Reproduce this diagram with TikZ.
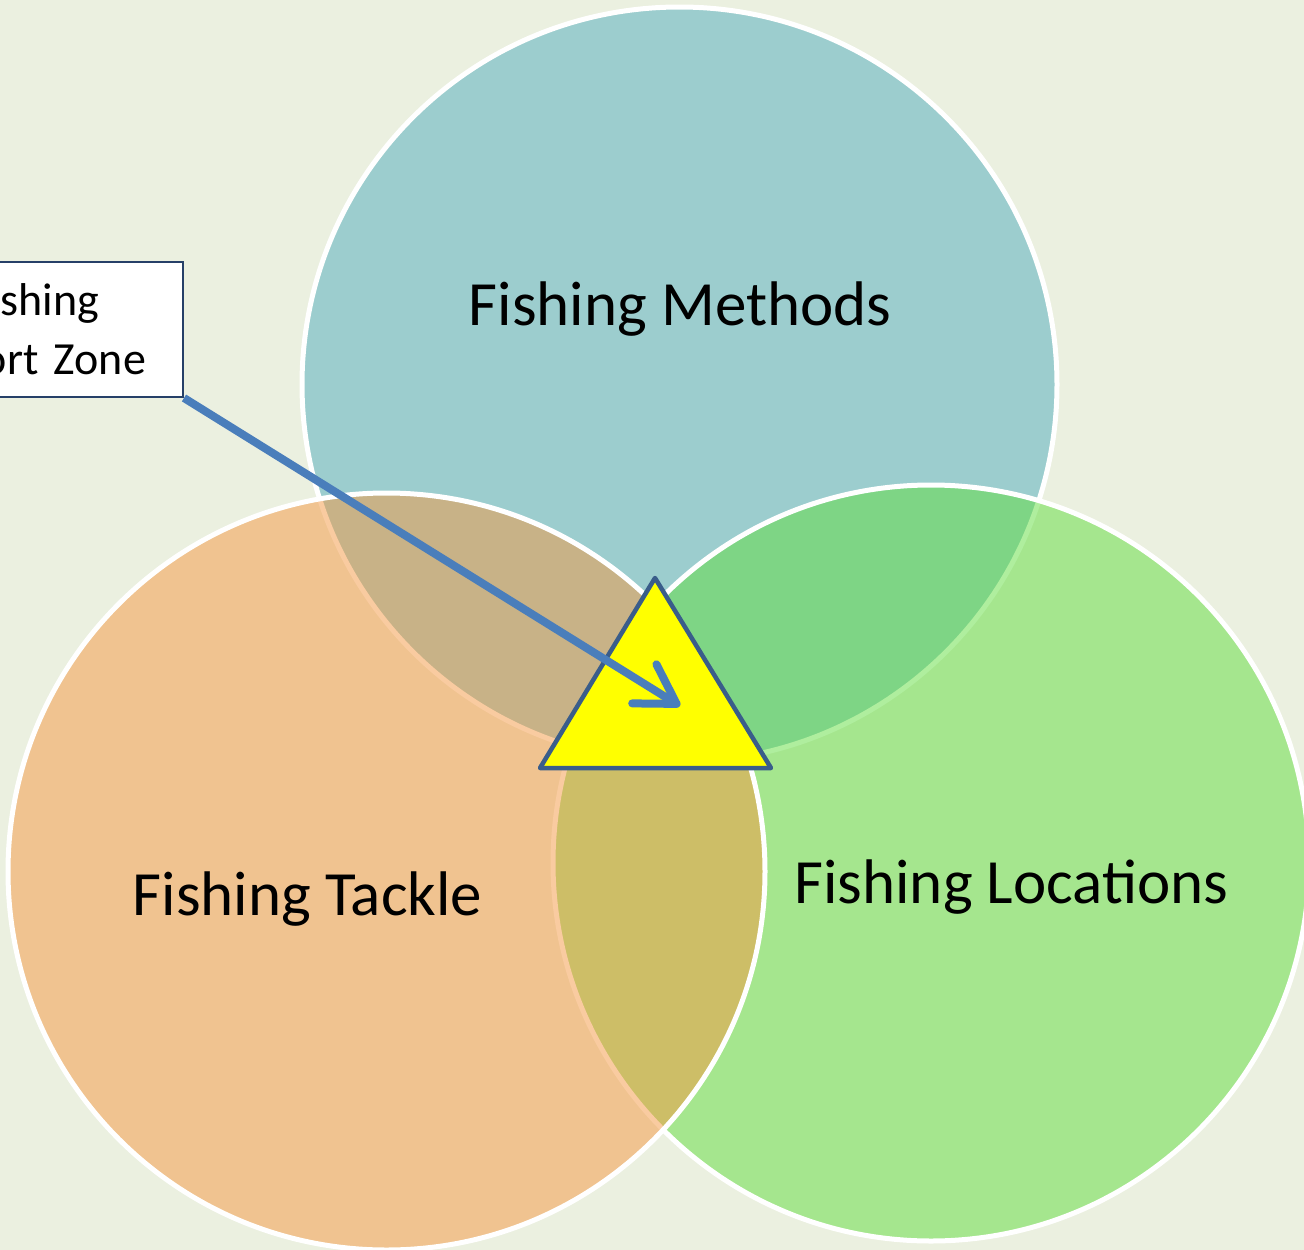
\documentclass[tikz,border=0pt]{standalone}
\usepackage{fontspec}
\setmainfont{Carlito}
\usetikzlibrary{arrows.meta}
\definecolor{bgc}{RGB}{235,240,224}
\definecolor{methc}{RGB}{156,205,206}
\definecolor{locc}{RGB}{97,222,62}
\definecolor{tackc}{RGB}{245,152,66}
\definecolor{arrowc}{RGB}{74,126,187}
\definecolor{triborder}{RGB}{58,93,138}
\definecolor{boxborder}{RGB}{38,64,104}
\definecolor{yel}{RGB}{255,255,0}
\tikzset{
  vcircle/.style={draw=white, line width=5pt},
  label/.style={font=\fontsize{63}{70}\selectfont, text=black, anchor=base, inner sep=0pt},
  callout/.style={draw=boxborder, line width=2pt, fill=white, align=right,
    font=\fontsize{46}{59}\selectfont, text width=262pt, minimum height=135pt,
    inner xsep=37pt, inner ysep=0pt, anchor=north east},
  pointer/.style={draw=arrowc, line width=8pt,
    -{Straight Barb[length=38pt, width=46pt, line cap=round, line join=round]}}
}
\begin{document}
\begin{tikzpicture}[x=1pt,y=-1pt]
\useasboundingbox (0,0) rectangle (1304,1250);
\fill[bgc] (0,0) rectangle (1304,1250);
% circles: Methods, then Locations, then Tackle
\path[vcircle, fill=methc] (679.5,384.5) circle[radius=377.5];
\path[vcircle, fill=locc, fill opacity=0.5] (931,863) circle[radius=378];
\path[vcircle, fill=tackc, fill opacity=0.5] (386.5,871.5) circle[radius=378.5];
% labels
\node[label] (meth) at (680,325) {Fishing Methods};
\node[label] (tack) at (307.5,915) {Fishing Tackle};
\node[label] (loc) at (1011.5,903) {Fishing Locations};
% triangle
\coordinate (ta) at (655,578);
\coordinate (tb) at (540,768);
\coordinate (tc) at (771,768);
\filldraw[fill=yel, draw=triborder, line width=4.5pt, line join=round] (ta) -- (tb) -- (tc) -- cycle;
% callout box
\node[callout] (box) at (184,261) {Fishing\hbox to 47pt{}\\Comfort Zone};
\coordinate (tip) at (680,706);
\draw[pointer] (box.south east) -- (tip);
\end{tikzpicture}
\end{document}
